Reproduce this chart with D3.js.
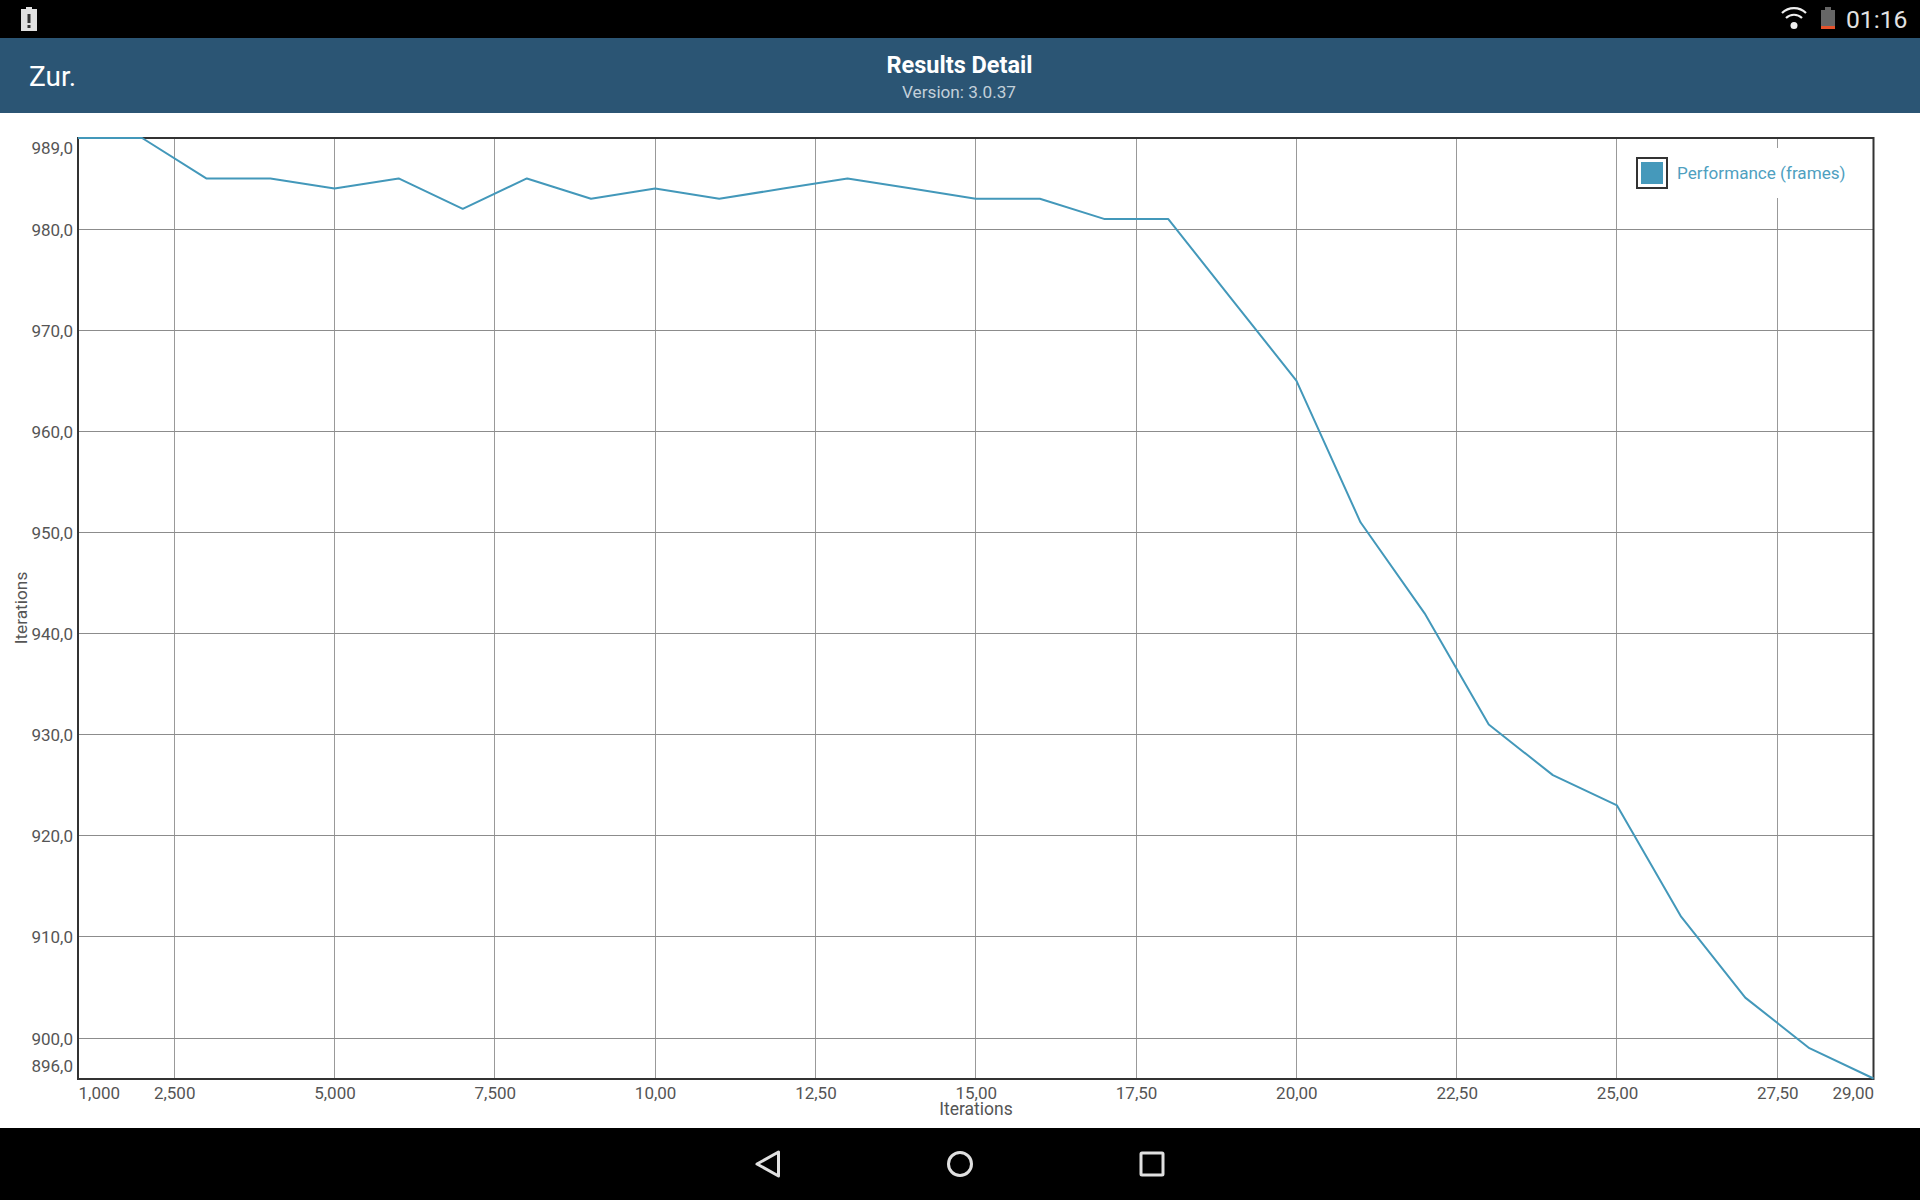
<!DOCTYPE html>
<html><head><meta charset="utf-8">
<script src="https://cdn.jsdelivr.net/npm/d3@7/dist/d3.min.js"></script>
<style>html,body{margin:0;padding:0;background:#fff;overflow:hidden}svg{display:block}text{font-family:Roboto,sans-serif}</style>
</head><body><svg id="c" width="1920" height="1200"></svg>
<script>
const iterations=[1,2,3,4,5,6,7,8,9,10,11,12,13,14,15,16,17,18,19,20,21,22,23,24,25,26,27,28,29];
const frames=[989,989,985,985,984,985,982,985,983,984,983,984,985,984,983,983,981,981,973,965,951,942,931,926,923,912,904,899,896];
const xTicks=[1,2.5,5,7.5,10,12.5,15,17.5,20,22.5,25,27.5,29];
const xTickLabels=["1,000","2,500","5,000","7,500","10,00","12,50","15,00","17,50","20,00","22,50","25,00","27,50","29,00"];
const yTicks=[896,900,910,920,930,940,950,960,970,980,989];
const yTickLabels=["896,0","900,0","910,0","920,0","930,0","940,0","950,0","960,0","970,0","980,0","989,0"];
const seriesName="Performance (frames)";
const axisTitle="Iterations";

const svg=d3.select("#c");
const L=78,R=1873.5,T=138,B=1078.5;
const x=d3.scaleLinear().domain([1,29]).range([L,R]);
const y=d3.scaleLinear().domain([896,989]).range([B,T]);
const textCol="#555",gridColV="#999",gridColH="#8c8c8c",lineCol="#4398ba",frameCol="#333";

// chrome
svg.append("rect").attr("width",1920).attr("height",38).attr("fill","#000");
svg.append("rect").attr("y",38).attr("width",1920).attr("height",75).attr("fill","#2b5574");
svg.append("rect").attr("y",1128).attr("width",1920).attr("height",72).attr("fill","#000");
svg.append("text").attr("x",29).attr("y",85.5).attr("font-size",28).attr("fill","#fff").text("Zur.");
svg.append("text").attr("x",959.5).attr("y",73).attr("text-anchor","middle").attr("font-size",23.5).attr("font-weight",700).attr("fill","#fff").text("Results Detail");
svg.append("text").attr("x",959).attr("y",98).attr("text-anchor","middle").attr("font-size",17.2).attr("fill","#c3d0da").text("Version: 3.0.37");
svg.append("text").attr("x",1846).attr("y",28).attr("font-size",24.7).attr("fill","#e2e2e2").text("01:16");

// status icons
svg.append("path").attr("d","M21 9h5v-2h6v2h5v22h-16z").attr("fill","#e0e0e0");
svg.append("rect").attr("x",27.5).attr("y",14).attr("width",3).attr("height",9).attr("fill","#333");
svg.append("rect").attr("x",27.5).attr("y",25).attr("width",3).attr("height",3).attr("fill","#333");
const wifi=svg.append("g").attr("fill","none").attr("stroke","#eee").attr("stroke-width",2.2);
wifi.append("path").attr("d","M1782 13a17 17 0 0 1 24 0");
wifi.append("path").attr("d","M1786 18a11.5 11.5 0 0 1 16 0");
svg.append("circle").attr("cx",1794).attr("cy",25.5).attr("r",3.5).attr("fill","#eee");
svg.append("path").attr("d","M1821 10h4v-3h6v3h4v16h-14z").attr("fill","#666");
svg.append("rect").attr("x",1821).attr("y",26).attr("width",14).attr("height",3).attr("fill","#e5522b");

// nav icons
const nav=svg.append("g").attr("fill","none").attr("stroke","#e0e0e0").attr("stroke-width",3).attr("stroke-linejoin","round");
nav.append("path").attr("d","M778.5 1152V1176L757 1164Z");
nav.append("circle").attr("cx",960).attr("cy",1164).attr("r",11.5);
nav.append("rect").attr("x",1141).attr("y",1153).attr("width",22).attr("height",22).attr("rx",1);

// grid
svg.append("g").selectAll("line").data(xTicks.slice(1,-1)).join("line")
  .attr("x1",d=>Math.floor(x(d))+.5).attr("x2",d=>Math.floor(x(d))+.5).attr("y1",T).attr("y2",B)
  .attr("stroke",gridColV).attr("stroke-width",1);
svg.append("g").selectAll("line").data(yTicks.slice(1,-1)).join("line")
  .attr("y1",d=>Math.floor(y(d))+.5).attr("y2",d=>Math.floor(y(d))+.5).attr("x1",L).attr("x2",R)
  .attr("stroke",gridColH).attr("stroke-width",1);

// legend background + frame
svg.append("rect").attr("x",1626).attr("y",148).attr("width",228).attr("height",50).attr("fill","#fff");
svg.append("rect").attr("x",78).attr("y",138).attr("width",1795.5).attr("height",941)
  .attr("fill","none").attr("stroke",frameCol).attr("stroke-width",2);

// axes
const xAxis=d3.axisBottom(x).tickValues(xTicks).tickSize(0).tickFormat((d,i)=>xTickLabels[i]);
const gx=svg.append("g").attr("transform",`translate(0,${B})`).call(xAxis);
gx.select(".domain").remove();
gx.selectAll("text").attr("y",0).attr("dy",0).attr("transform","translate(0,20.5)")
  .attr("font-family","Roboto").attr("font-size",17).attr("fill",textCol)
  .attr("text-anchor",(d,i)=>i===0?"start":i===xTicks.length-1?"end":"middle");
const yAxis=d3.axisLeft(y).tickValues(yTicks).tickSize(0).tickFormat((d,i)=>yTickLabels[i]);
const gy=svg.append("g").attr("transform",`translate(${L},0)`).call(yAxis);
gy.select(".domain").remove();
gy.selectAll("text").attr("x",-5).attr("dy",0)
  .attr("y",(d,i)=>i===0?-7.5:i===yTicks.length-1?15:6)
  .attr("font-family","Roboto").attr("font-size",17).attr("fill",textCol);
svg.append("text").attr("x",976).attr("y",1115).attr("text-anchor","middle").attr("font-size",17.5).attr("fill",textCol).text(axisTitle);
svg.append("text").attr("transform","translate(27,608) rotate(-90)").attr("text-anchor","middle").attr("font-size",17.3).attr("fill",textCol).text(axisTitle);

// series
const line=d3.line().x((d,i)=>x(iterations[i])).y(d=>y(d));
svg.append("path").datum(frames).attr("d",line).attr("fill","none").attr("stroke",lineCol).attr("stroke-width",2).attr("stroke-linejoin","round");

// legend
svg.append("rect").attr("x",1637).attr("y",158).attr("width",30).attr("height",30).attr("fill","#fff").attr("stroke",frameCol).attr("stroke-width",2);
svg.append("rect").attr("x",1641).attr("y",162).attr("width",22).attr("height",22).attr("fill","#4599bb");
svg.append("text").attr("x",1677).attr("y",179).attr("font-size",17.1).attr("fill","#4fa0bf").text(seriesName);
</script></body></html>
